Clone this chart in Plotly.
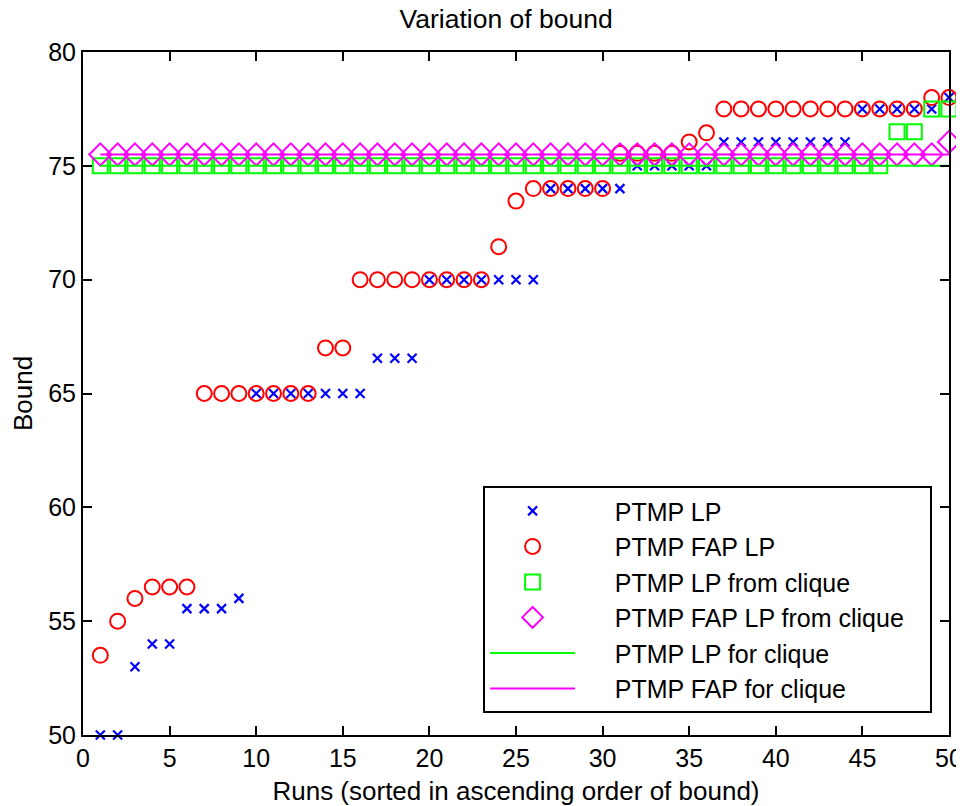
import plotly.graph_objects as go

runs = list(range(1, 51))

ptmp_lp = ([50, 50, 53, 54, 54, 55.55, 55.55, 55.55, 56]
           + [65] * 7 + [66.55] * 3 + [70] * 7 + [74] * 5
           + [75] * 5 + [76.05] * 8 + [77.5] * 5 + [78])

ptmp_fap_lp = ([53.5, 55, 56, 56.5, 56.5, 56.5]
               + [65] * 7 + [67, 67] + [70] * 8 + [71.45, 73.45]
               + [74] * 5 + [75.55] * 4 + [76.05, 76.45]
               + [77.5] * 12 + [78, 78])

lp_from_clique = [75] * 46 + [76.5, 76.5, 77.5, 77.5]
fap_lp_from_clique = [75.5] * 49 + [76.05]

lp_for_clique = [75] * 50
fap_for_clique = [75.5] * 50

x_ticks = [0, 5, 10, 15, 20, 25, 30, 35, 40, 45, 50]
y_ticks = [50, 55, 60, 65, 70, 75, 80]

names = ["PTMP LP", "PTMP FAP LP", "PTMP LP from clique",
         "PTMP FAP LP from clique", "PTMP LP for clique", "PTMP FAP for clique"]

FONT = "Liberation Sans, Arial, sans-serif"
PAD = "\u00a0" * 5
TAIL = "\u00a0" * 3

fig = go.Figure()
fig.add_trace(go.Scatter(x=runs, y=ptmp_lp, mode="markers", name=PAD + names[0] + TAIL,
                         cliponaxis=False,
                         marker=dict(symbol="x-thin", size=9, color="#0000ff",
                                     line=dict(color="#0000ff", width=2.2))))
fig.add_trace(go.Scatter(x=runs, y=ptmp_fap_lp, mode="markers", name=PAD + names[1] + TAIL,
                         cliponaxis=False,
                         marker=dict(symbol="circle-open", size=15, color="#ff0000",
                                     line=dict(color="#ff0000", width=2))))
fig.add_trace(go.Scatter(x=runs, y=lp_from_clique, mode="markers", name=PAD + names[2] + TAIL,
                         cliponaxis=False,
                         marker=dict(symbol="square-open", size=15, color="#00ff00",
                                     line=dict(color="#00ff00", width=2))))
fig.add_trace(go.Scatter(x=runs, y=fap_lp_from_clique, mode="markers", name=PAD + names[3] + TAIL,
                         cliponaxis=False,
                         marker=dict(symbol="diamond-open", size=17, color="#ff00ff",
                                     line=dict(color="#ff00ff", width=2))))
fig.add_trace(go.Scatter(x=runs, y=lp_for_clique, mode="lines", name=PAD + names[4] + TAIL,
                         line=dict(color="#00ff00", width=2)))
fig.add_trace(go.Scatter(x=runs, y=fap_for_clique, mode="lines", name=PAD + names[5] + TAIL,
                         line=dict(color="#ff00ff", width=2)))

axis_common = dict(showline=True, linecolor="black", linewidth=2, mirror="ticks",
                   ticks="inside", ticklen=9, tickwidth=2, tickcolor="black",
                   showgrid=False, zeroline=False, automargin=False,
                   tickfont=dict(family=FONT, size=25, color="black"))

# page body has an 8px margin, so the figure is sized to fit the 964x806 window
fig.update_layout(
    width=956, height=798,
    margin=dict(l=75, r=15, t=44, b=71),
    paper_bgcolor="white", plot_bgcolor="white",
    font=dict(family=FONT, size=25, color="black"),
    title=dict(text="Variation of bound", x=0.521, xanchor="center", y=0.987, yanchor="middle",
               font=dict(family=FONT, size=26.5, color="black")),
    xaxis=dict(range=[0, 50], tickvals=x_ticks,
               title=dict(text="Runs (sorted in ascending order of bound)", standoff=12,
                          font=dict(family=FONT, size=26)),
               **axis_common),
    yaxis=dict(range=[50, 80], tickvals=y_ticks,
               title=dict(text="Bound", standoff=13, font=dict(family=FONT, size=26)),
               **axis_common),
    legend=dict(x=0.462, y=0.032, xanchor="left", yanchor="bottom",
                bordercolor="black", borderwidth=2, bgcolor="white",
                font=dict(family=FONT, size=25, color="black"),
                itemwidth=85, tracegroupgap=0),
    showlegend=True,
)

fig.write_html("out.html")
